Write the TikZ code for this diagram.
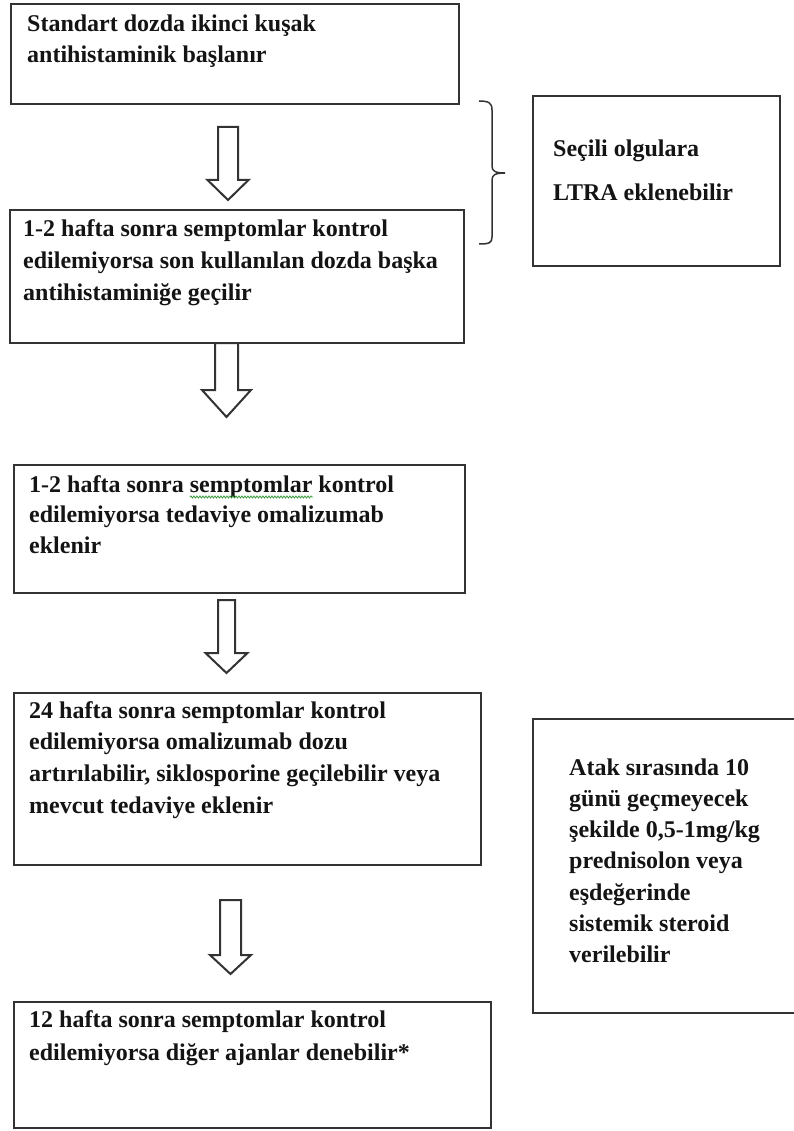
\documentclass[tikz,border=0pt]{standalone}
\usepackage{fontspec}
\setmainfont{Liberation Serif}
\usetikzlibrary{calc,decorations.pathmorphing}
\definecolor{edge}{HTML}{333333}
\definecolor{ink}{HTML}{141414}
\definecolor{spell}{HTML}{3A9A3A}
\tikzset{
  box/.style={draw=edge, line width=2pt, anchor=north west, inner sep=0pt, rectangle},
  txt/.style={anchor=base west, inner sep=0pt, text=ink, font=\bfseries\fontsize{24}{28}\selectfont},
  arrowline/.style={draw=edge, line width=2pt, fill=white, line join=miter},
  braceline/.style={draw=edge, line width=1.5pt},
}
% hollow down arrow: #1 start coord, #2 tip coord, #3 shaft half width, #4 head half width, #5 head length
\newcommand\hollowdown[5]{%
  \draw[arrowline] let \p1=(#1), \p2=(#2) in
    (\x1-#3,\y1) -- (\x1+#3,\y1) -- (\x1+#3,\y2+#5) -- (\x1+#4,\y2+#5) -- (\x2,\y2)
    -- (\x1-#4,\y2+#5) -- (\x1-#3,\y2+#5) -- cycle;}
% lines of text: #1 prefix, #2 x, #3 first baseline y, #4 skip, #5 list
\newcommand\textlines[5]{%
  \foreach \t [count=\i] in {#5}
    \node[txt, yshift={-(\i-1)*#4}] (#1-\i) at (#2,-#3) {\t};}
\begin{document}
\begin{tikzpicture}[x=1pt,y=1pt]
\useasboundingbox (0,0) rectangle (794,-1131);
\fill[white] (0,0) rectangle (794,-1131);

% boxes
\node[box, minimum width=448pt, minimum height=100pt] (b1) at (10,-3) {};
\node[box, minimum width=454pt, minimum height=133pt] (b2) at (9,-209) {};
\node[box, minimum width=451pt, minimum height=128pt] (b3) at (13,-464) {};
\node[box, minimum width=467pt, minimum height=172pt] (b4) at (13,-692) {};
\node[box, minimum width=477pt, minimum height=126pt] (b5) at (13,-1001) {};
\node[box, minimum width=247pt, minimum height=170pt] (ltra) at (532,-95) {};
\node[box, minimum width=272pt, minimum height=294pt] (atak) at (532,-718) {};

% texts
\textlines{t1}{27pt}{32pt}{31pt}{{Standart dozda ikinci kuşak},{antihistaminik başlanır}}
\textlines{t2}{23pt}{237pt}{31.5pt}{{1-2 hafta sonra semptomlar kontrol},{edilemiyorsa son kullanılan dozda başka},{antihistaminiğe geçilir}}
\textlines{t3}{29pt}{492pt}{30.5pt}{{1-2 hafta sonra semptomlar kontrol},{edilemiyorsa tedaviye omalizumab},{eklenir}}
\textlines{t4}{29pt}{718pt}{31.7pt}{{24 hafta sonra semptomlar kontrol},{edilemiyorsa omalizumab dozu},{artırılabilir, siklosporine geçilebilir veya},{mevcut tedaviye eklenir}}
\textlines{t5}{29pt}{1027pt}{33pt}{{12 hafta sonra semptomlar kontrol},{edilemiyorsa diğer ajanlar denebilir*}}
\textlines{t6}{553pt}{157pt}{44pt}{{Seçili olgulara},{LTRA eklenebilir}}
\textlines{t7}{569pt}{775pt}{31.3pt}{{Atak sırasında 10},{günü geçmeyecek},{şekilde 0,5-1mg/kg},{prednisolon veya},{eşdeğerinde},{sistemik steroid},{verilebilir}}

% spell-check underline
\coordinate (sp1) at (190,-497);
\coordinate (sp2) at (313,-497);
\draw[spell, line width=0.8pt, decorate, decoration={snake, amplitude=1pt, segment length=3pt}] (sp1) -- (sp2);

% hollow arrows
\coordinate (a1s) at (228,-127);   \coordinate (a1e) at (228,-200);
\coordinate (a2s) at (226.5,-343); \coordinate (a2e) at (226.5,-417);
\coordinate (a3s) at (226.5,-600); \coordinate (a3e) at (226.5,-673);
\coordinate (a4s) at (230.5,-900); \coordinate (a4e) at (230.5,-974);
\hollowdown{a1s}{a1e}{10pt}{20.5pt}{20pt}
\hollowdown{a2s}{a2e}{11.5pt}{24.5pt}{27pt}
\hollowdown{a3s}{a3e}{8.5pt}{21pt}{20pt}
\hollowdown{a4s}{a4e}{10.5pt}{20.5pt}{19pt}

% brace
\coordinate (brtop) at (479,-101);
\coordinate (brtip) at (505,-173);
\coordinate (brbot) at (479,-244);
\draw[braceline] (brtop) .. controls (489,-101) and (492,-103) .. (492,-110)
  -- (492,-166) .. controls (492,-171) and (495,-173) .. (brtip)
  .. controls (495,-173) and (492,-175) .. (492,-180)
  -- (492,-237) .. controls (492,-243) and (489,-244) .. (brbot);
\end{tikzpicture}
\end{document}
